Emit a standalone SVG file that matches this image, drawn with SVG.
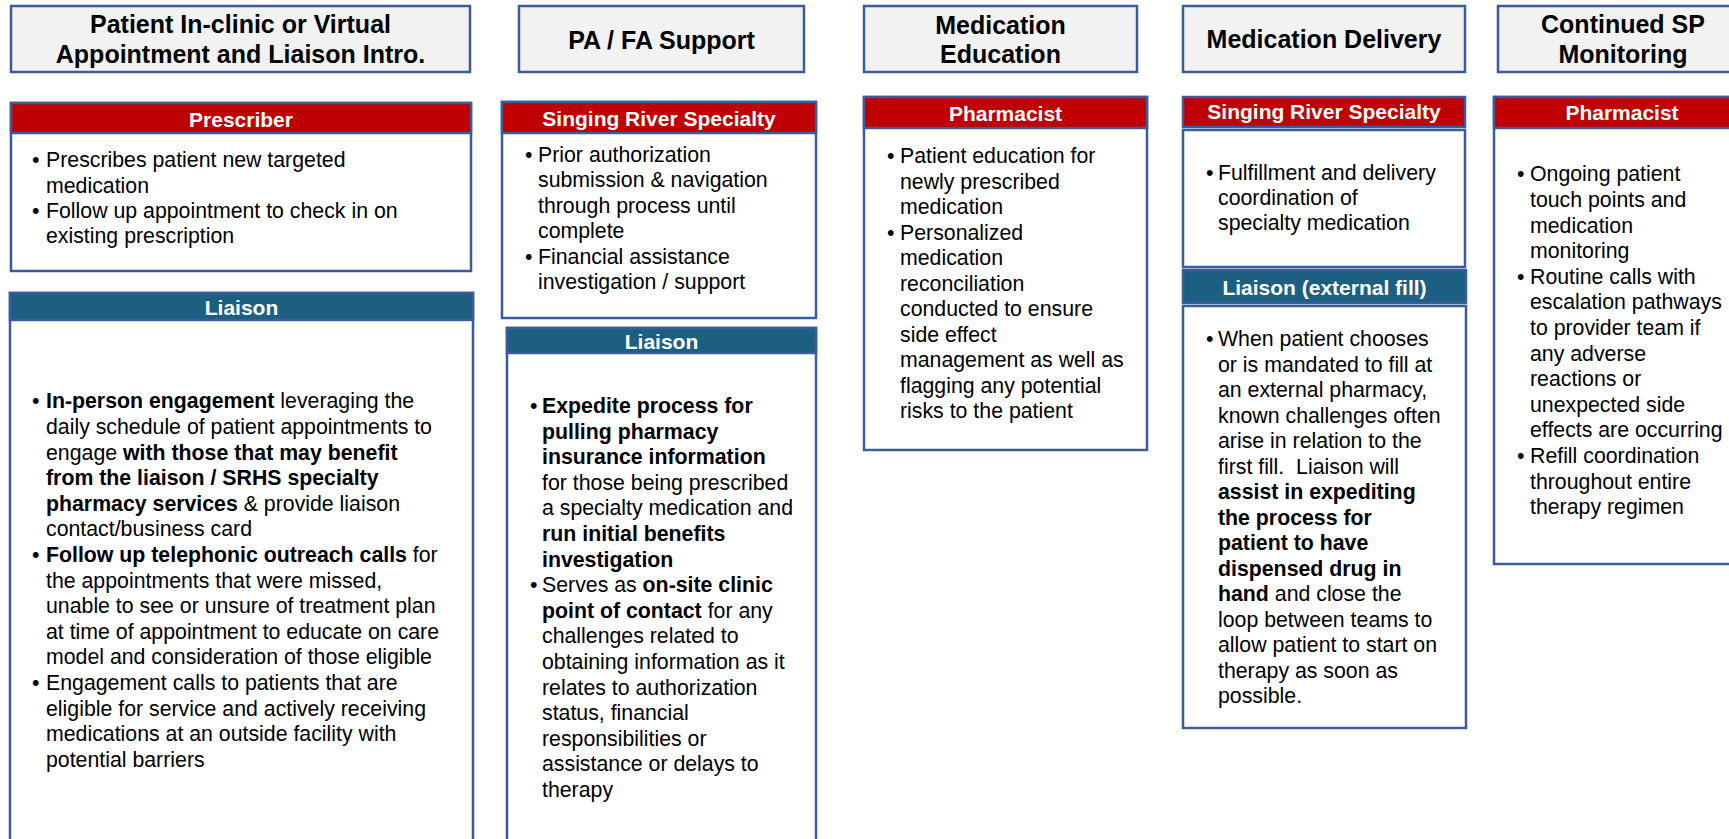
<svg xmlns="http://www.w3.org/2000/svg" width="1729" height="839" viewBox="0 0 1729 839">
<style>
.hdr{fill:#f2f2f2;stroke:#3a5b9c;stroke-width:2.5}
.box{fill:#fff;stroke:#3a5b9c;stroke-width:2.5}
.red{fill:#c00000;stroke:#3a5b9c;stroke-width:2.5}
.teal{fill:#1d5f80;stroke:#3a5b9c;stroke-width:2.5}
.title{font-family:"Liberation Sans",Arial,sans-serif;font-weight:bold;font-size:25px;fill:#000;text-anchor:middle}
.role{font-family:"Liberation Sans",Arial,sans-serif;font-weight:bold;font-size:21px;fill:#fff;text-anchor:middle}
.body{font-family:"Liberation Sans",Arial,sans-serif;font-size:21.3px;fill:#000}
.b{font-weight:bold}
</style>
<rect width="1729" height="839" fill="#fff"/>

<!-- Column 1 -->
<g id="hdr-appointment">
<rect class="hdr" x="11" y="6" width="459" height="66"/>
<text class="title" x="240.5" y="33">Patient In-clinic or Virtual</text>
<text class="title" x="240.5" y="63">Appointment and Liaison Intro.</text>
</g>
<g id="prescriber">
<rect class="box" x="11" y="103" width="460" height="168"/>
<rect class="red" x="11" y="103" width="460" height="30"/>
<text class="role" x="241" y="127">Prescriber</text>
<text class="body">
<tspan x="32" y="167">•</tspan><tspan x="46" y="167">Prescribes patient new targeted</tspan>
<tspan x="46" y="192.5">medication</tspan>
<tspan x="32" y="218">•</tspan><tspan x="46" y="218">Follow up appointment to check in on</tspan>
<tspan x="46" y="243">existing prescription</tspan>
</text>
</g>
<g id="liaison-1">
<rect class="box" x="10" y="293" width="463" height="570"/>
<rect class="teal" x="10" y="293" width="463" height="27"/>
<text class="role" x="241.5" y="315">Liaison</text>
<text class="body">
<tspan x="32" y="408.3">•</tspan><tspan x="46" y="408.3"><tspan class="b">In-person engagement</tspan> leveraging the</tspan>
<tspan x="46" y="433.9">daily schedule of patient appointments to</tspan>
<tspan x="46" y="459.5">engage <tspan class="b">with those that may benefit</tspan></tspan>
<tspan x="46" y="485.1" class="b">from the liaison / SRHS specialty</tspan>
<tspan x="46" y="510.7"><tspan class="b">pharmacy services</tspan> &amp; provide liaison</tspan>
<tspan x="46" y="536.3">contact/business card</tspan>
<tspan x="32" y="561.9">•</tspan><tspan x="46" y="561.9"><tspan class="b">Follow up telephonic outreach calls</tspan> for</tspan>
<tspan x="46" y="587.5">the appointments that were missed,</tspan>
<tspan x="46" y="613.1">unable to see or unsure of treatment plan</tspan>
<tspan x="46" y="638.7">at time of appointment to educate on care</tspan>
<tspan x="46" y="664.3">model and consideration of those eligible</tspan>
<tspan x="32" y="689.9">•</tspan><tspan x="46" y="689.9">Engagement calls to patients that are</tspan>
<tspan x="46" y="715.5">eligible for service and actively receiving</tspan>
<tspan x="46" y="741.1">medications at an outside facility with</tspan>
<tspan x="46" y="766.7">potential barriers</tspan>
</text>
</g>

<!-- Column 2 -->
<g id="hdr-pafa">
<rect class="hdr" x="519" y="6" width="285" height="66"/>
<text class="title" x="661.5" y="49">PA / FA Support</text>
</g>
<g id="srs-pafa">
<rect class="box" x="502" y="102" width="314" height="216"/>
<rect class="red" x="502" y="102" width="314" height="31"/>
<text class="role" x="659" y="126">Singing River Specialty</text>
<text class="body">
<tspan x="525" y="162">•</tspan><tspan x="538" y="162">Prior authorization</tspan>
<tspan x="538" y="187">submission &amp; navigation</tspan>
<tspan x="538" y="212.5">through process until</tspan>
<tspan x="538" y="237.5">complete</tspan>
<tspan x="525" y="263.5">•</tspan><tspan x="538" y="263.5">Financial assistance</tspan>
<tspan x="538" y="289">investigation / support</tspan>
</text>
</g>
<g id="liaison-2">
<rect class="box" x="507" y="328" width="309" height="535"/>
<rect class="teal" x="507" y="328" width="309" height="25"/>
<text class="role" x="661.5" y="349">Liaison</text>
<text class="body">
<tspan x="530" y="413">•</tspan><tspan x="542" y="413" class="b">Expedite process for</tspan>
<tspan x="542" y="438.6" class="b">pulling pharmacy</tspan>
<tspan x="542" y="464.2" class="b">insurance information</tspan>
<tspan x="542" y="489.8">for those being prescribed</tspan>
<tspan x="542" y="515.4">a specialty medication and</tspan>
<tspan x="542" y="541" class="b">run initial benefits</tspan>
<tspan x="542" y="566.6" class="b">investigation</tspan>
<tspan x="530" y="592.2">•</tspan><tspan x="542" y="592.2">Serves as <tspan class="b">on-site clinic</tspan></tspan>
<tspan x="542" y="617.8"><tspan class="b">point of contact</tspan> for any</tspan>
<tspan x="542" y="643.4">challenges related to</tspan>
<tspan x="542" y="669">obtaining information as it</tspan>
<tspan x="542" y="694.6">relates to authorization</tspan>
<tspan x="542" y="720.2">status, financial</tspan>
<tspan x="542" y="745.8">responsibilities or</tspan>
<tspan x="542" y="771.4">assistance or delays to</tspan>
<tspan x="542" y="797">therapy</tspan>
</text>
</g>

<!-- Column 3 -->
<g id="hdr-education">
<rect class="hdr" x="864" y="6" width="273" height="66"/>
<text class="title" x="1000.5" y="34">Medication</text>
<text class="title" x="1000.5" y="63">Education</text>
</g>
<g id="pharmacist-education">
<rect class="box" x="864" y="97" width="283" height="353"/>
<rect class="red" x="864" y="97" width="283" height="31"/>
<text class="role" x="1005.5" y="121">Pharmacist</text>
<text class="body">
<tspan x="887" y="163">•</tspan><tspan x="900" y="163">Patient education for</tspan>
<tspan x="900" y="188.5">newly prescribed</tspan>
<tspan x="900" y="214">medication</tspan>
<tspan x="887" y="239.5">•</tspan><tspan x="900" y="239.5">Personalized</tspan>
<tspan x="900" y="265">medication</tspan>
<tspan x="900" y="290.5">reconciliation</tspan>
<tspan x="900" y="316">conducted to ensure</tspan>
<tspan x="900" y="341.5">side effect</tspan>
<tspan x="900" y="367">management as well as</tspan>
<tspan x="900" y="392.5">flagging any potential</tspan>
<tspan x="900" y="418">risks to the patient</tspan>
</text>
</g>

<!-- Column 4 -->
<g id="hdr-delivery">
<rect class="hdr" x="1183" y="6" width="282" height="66"/>
<text class="title" x="1324" y="48">Medication Delivery</text>
</g>
<g id="srs-delivery">
<rect class="red" x="1183" y="97" width="282" height="30"/>
<text class="role" x="1324" y="119">Singing River Specialty</text>
<rect class="box" x="1183" y="130" width="282" height="137"/>
<text class="body">
<tspan x="1206" y="180">•</tspan><tspan x="1218" y="180">Fulfillment and delivery</tspan>
<tspan x="1218" y="205">coordination of</tspan>
<tspan x="1218" y="230">specialty medication</tspan>
</text>
</g>
<g id="liaison-external">
<rect class="teal" x="1183" y="270" width="283" height="33"/>
<text class="role" x="1324.5" y="295">Liaison (external fill)</text>
<rect class="box" x="1183" y="306" width="283" height="422"/>
<text class="body" xml:space="preserve">
<tspan x="1206" y="346">•</tspan><tspan x="1218" y="346">When patient chooses</tspan>
<tspan x="1218" y="371.5">or is mandated to fill at</tspan>
<tspan x="1218" y="397">an external pharmacy,</tspan>
<tspan x="1218" y="422.5">known challenges often</tspan>
<tspan x="1218" y="448">arise in relation to the</tspan>
<tspan x="1218" y="473.5">first fill.  Liaison will</tspan>
<tspan x="1218" y="499" class="b">assist in expediting</tspan>
<tspan x="1218" y="524.5" class="b">the process for</tspan>
<tspan x="1218" y="550" class="b">patient to have</tspan>
<tspan x="1218" y="575.5" class="b">dispensed drug in</tspan>
<tspan x="1218" y="601"><tspan class="b">hand</tspan> and close the</tspan>
<tspan x="1218" y="626.5">loop between teams to</tspan>
<tspan x="1218" y="652">allow patient to start on</tspan>
<tspan x="1218" y="677.5">therapy as soon as</tspan>
<tspan x="1218" y="703">possible.</tspan>
</text>
</g>

<!-- Column 5 -->
<g id="hdr-monitoring">
<rect class="hdr" x="1498" y="6" width="250" height="66"/>
<text class="title" x="1623" y="33">Continued SP</text>
<text class="title" x="1623" y="63">Monitoring</text>
</g>
<g id="pharmacist-monitoring">
<rect class="box" x="1494" y="97" width="260" height="467"/>
<rect class="red" x="1494" y="97" width="260" height="31"/>
<text class="role" x="1622" y="120">Pharmacist</text>
<text class="body">
<tspan x="1517" y="181.3">•</tspan><tspan x="1530" y="181.3">Ongoing patient</tspan>
<tspan x="1530" y="206.9">touch points and</tspan>
<tspan x="1530" y="232.5">medication</tspan>
<tspan x="1530" y="258.1">monitoring</tspan>
<tspan x="1517" y="283.7">•</tspan><tspan x="1530" y="283.7">Routine calls with</tspan>
<tspan x="1530" y="309.3">escalation pathways</tspan>
<tspan x="1530" y="334.9">to provider team if</tspan>
<tspan x="1530" y="360.5">any adverse</tspan>
<tspan x="1530" y="386.1">reactions or</tspan>
<tspan x="1530" y="411.7">unexpected side</tspan>
<tspan x="1530" y="437.3">effects are occurring</tspan>
<tspan x="1517" y="462.9">•</tspan><tspan x="1530" y="462.9">Refill coordination</tspan>
<tspan x="1530" y="488.5">throughout entire</tspan>
<tspan x="1530" y="514.1">therapy regimen</tspan>
</text>
</g>

<g id="connectors"/>
</svg>
